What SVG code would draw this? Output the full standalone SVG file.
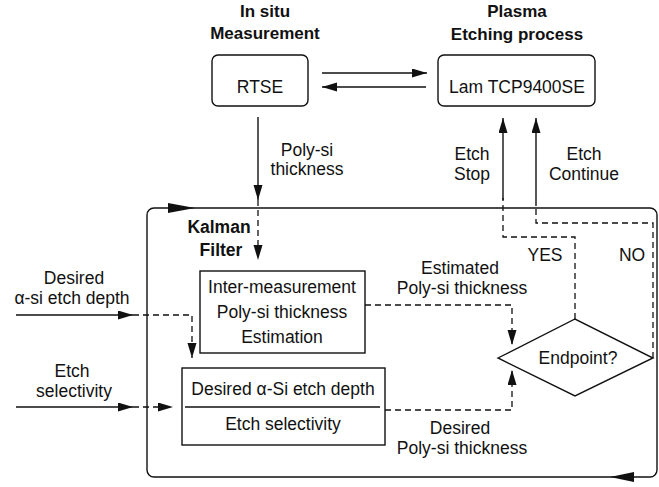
<svg xmlns="http://www.w3.org/2000/svg" width="659" height="487" viewBox="0 0 659 487">
<style>
text{font-family:"Liberation Sans",Arial,sans-serif;font-size:17.5px;fill:#111;text-anchor:middle}
.b{font-weight:bold;font-size:17px}
.box{fill:#fff;stroke:#111;stroke-width:1.4}
.ln{fill:none;stroke:#111;stroke-width:1.4}
.ds{fill:none;stroke:#111;stroke-width:1.3;stroke-dasharray:6 4}
</style>
<defs>
<marker id="ah" markerUnits="userSpaceOnUse" markerWidth="16" markerHeight="10" refX="15" refY="4.5" orient="auto">
<path d="M0,0 L15,4.5 L0,9 z" fill="#111"/>
</marker>
</defs>
<rect width="659" height="487" fill="#fff"/>
<g id="labels-top">
<text class="b" x="265" y="17">In situ</text>
<text class="b" x="265" y="39">Measurement</text>
<text class="b" x="517" y="17">Plasma</text>
<text class="b" x="517" y="40">Etching process</text>
</g>
<g id="kalman">
<rect class="box" x="147" y="208" width="510" height="269" rx="7"/>
<text class="b" x="219" y="233" style="font-size:17.5px">Kalman</text>
<text class="b" x="221" y="256" style="font-size:17.5px">Filter</text>
<polygon points="195,208 168,203 168,213" fill="#111"/>
<polygon points="610,477 634,472 634,482" fill="#111"/>
</g>
<g id="rtse">
<rect class="box" x="212" y="55" width="96" height="51" rx="6"/>
<text x="260" y="93">RTSE</text>
</g>
<g id="lam">
<rect class="box" x="438" y="55" width="157" height="51" rx="6"/>
<text x="517" y="93">Lam TCP9400SE</text>
</g>
<g id="estimation">
<rect class="box" x="200" y="271" width="165" height="82"/>
<text x="282" y="293">Inter-measurement</text>
<text x="282" y="318">Poly-si thickness</text>
<text x="282" y="343">Estimation</text>
</g>
<g id="ratio">
<rect class="box" x="182" y="368" width="203" height="77"/>
<text x="283" y="395">Desired α-Si etch depth</text>
<line x1="185" y1="407" x2="380" y2="407" stroke="#111" stroke-width="1.3"/>
<text x="283" y="430">Etch selectivity</text>
</g>
<g id="endpoint">
<polygon class="box" points="498,358 575,319 653,358 575,396"/>
<text x="578" y="364">Endpoint?</text>
</g>
<g id="connectors">
<path class="ln" d="M322,73 H427" marker-end="url(#ah)"/>
<path class="ln" d="M426,87 H322" marker-end="url(#ah)"/>
<path class="ln" d="M258,117 V200" marker-end="url(#ah)"/>
<path class="ds" d="M258,200 V260" marker-end="url(#ah)"/>
<path class="ln" d="M16,315 H133" marker-end="url(#ah)"/>
<path class="ds" d="M133,315 H192 V358" marker-end="url(#ah)"/>
<path class="ln" d="M16,407 H133" marker-end="url(#ah)"/>
<path class="ds" d="M133,407 H173" marker-end="url(#ah)"/>
<path class="ds" d="M365,305 H512 V345" marker-end="url(#ah)"/>
<path class="ds" d="M385,410 H512 V370" marker-end="url(#ah)"/>
<path class="ds" d="M575,319 V237 H503 V198"/>
<path class="ln" d="M503,200 V118" marker-end="url(#ah)"/>
<path class="ds" d="M653,358 V223 H536 V205"/>
<path class="ln" d="M536,206 V118" marker-end="url(#ah)"/>
</g>
<g id="connector-labels">
<text x="307" y="156">Poly-si</text>
<text x="307" y="175">thickness</text>
<text x="472" y="160">Etch</text>
<text x="472" y="180">Stop</text>
<text x="584" y="160">Etch</text>
<text x="584" y="180">Continue</text>
<text x="74" y="284">Desired</text>
<text x="72" y="304">α-si etch depth</text>
<text x="72" y="377">Etch</text>
<text x="74" y="397">selectivity</text>
<text x="460" y="274">Estimated</text>
<text x="462" y="294">Poly-si thickness</text>
<text x="460" y="434">Desired</text>
<text x="462" y="454">Poly-si thickness</text>
<text x="545" y="261">YES</text>
<text x="632" y="261">NO</text>
</g>
</svg>
